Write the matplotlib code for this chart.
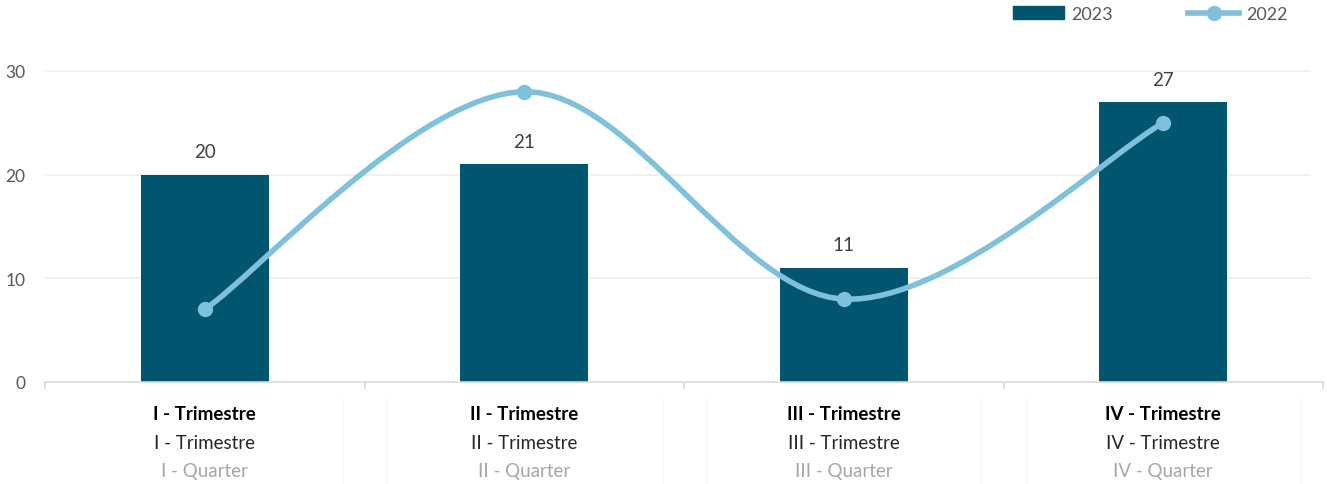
import matplotlib
matplotlib.use('Agg')
import matplotlib.pyplot as plt
from matplotlib.path import Path as mtpath
import matplotlib.patches as patches
from matplotlib.lines import Line2D

plt.rcParams['font.family'] = ['Lato', 'DejaVu Sans']

categories_bold = ['I - Trimestre', 'II - Trimestre', 'III - Trimestre', 'IV - Trimestre']
categories_mid = ['I - Trimestre', 'II - Trimestre', 'III - Trimestre', 'IV - Trimestre']
categories_en = ['I - Quarter', 'II - Quarter', 'III - Quarter', 'IV - Quarter']
values_2023 = [20, 21, 11, 27]
values_2022 = [7, 28, 8, 25]
yticks = [0, 10, 20, 30]

bar_color = '#02556f'
line_color = '#7fc0da'

W, H = 1327, 485
fig = plt.figure(figsize=(W / 100, H / 100), dpi=100)
ax = fig.add_axes([45 / W, 1 - 383 / H, (1323 - 45) / W, (383 - 72) / H * 31 / 30])

x = list(range(len(values_2023)))
ax.bar(x, values_2023, width=0.4, color=bar_color, zorder=2)
for xi, v in zip(x, values_2023):
    ax.text(xi, v + 1.4, str(v), ha='center', va='bottom', fontsize=13.5, color='#404040')

# smooth line like excel (cardinal spline through points)
pts = list(zip(x, values_2022))
verts = [pts[0]]
codes = [mtpath.MOVETO]
t = 1 / 6
for i in range(len(pts) - 1):
    p0 = pts[i - 1] if i > 0 else pts[i]
    p1 = pts[i]
    p2 = pts[i + 1]
    p3 = pts[i + 2] if i + 2 < len(pts) else pts[i + 1]
    c1 = (p1[0] + (p2[0] - p0[0]) * t, p1[1] + (p2[1] - p0[1]) * t)
    c2 = (p2[0] - (p3[0] - p1[0]) * t, p2[1] - (p3[1] - p1[1]) * t)
    verts += [c1, c2, p2]
    codes += [mtpath.CURVE4] * 3
curve = patches.PathPatch(mtpath(verts, codes), facecolor='none', edgecolor=line_color,
                          lw=4, capstyle='round', zorder=3)
ax.add_patch(curve)
ax.plot(x, values_2022, 'o', color=line_color, markersize=10, zorder=4)

ax.set_xlim(-0.5, 3.5)
ax.set_ylim(0, 31)
ax.set_yticks(yticks)
ax.set_yticklabels([str(v) for v in yticks], fontsize=12.5, color='#595959')
ax.tick_params(axis='y', length=0, pad=14)
ax.set_xticks([-0.5, 0.5, 1.5, 2.5, 3.5])
ax.set_xticklabels([])
ax.tick_params(axis='x', length=5, color='#d9d9d9', width=1.2)
for y in yticks[1:]:
    ax.plot([-0.5, 3.46], [y, y], color='#ededed', lw=1.2, zorder=0)
for s in ['top', 'right', 'left']:
    ax.spines[s].set_visible(False)
ax.spines['bottom'].set_color('#d9d9d9')
ax.spines['bottom'].set_linewidth(1.2)

for xi in x:
    ax.text(xi, -3.0, categories_bold[xi], ha='center', va='center', fontsize=13.5,
            fontweight='bold', color='black', clip_on=False)
    ax.text(xi, -5.8, categories_mid[xi], ha='center', va='center', fontsize=13.5,
            color='#262626', clip_on=False)
    ax.text(xi, -8.5, categories_en[xi], ha='center', va='center', fontsize=13.5,
            color='#a6a6a6', clip_on=False)

# faint separators between category label groups
for xb in [0.43, 0.57, 1.43, 1.57, 2.43, 2.57, 3.43]:
    ax.plot([xb, xb], [-1.5, -10], color='#f5f5f5', lw=1, clip_on=False, zorder=0)

handles = [patches.Patch(color=bar_color, label='2023'),
           Line2D([0], [0], color=line_color, lw=4, marker='o', markersize=10, label='2022')]
leg = fig.legend(handles=handles, loc='center left', bbox_to_anchor=(1004 / W, 1 - 15 / H),
                 ncol=2, frameon=False, fontsize=13, handlelength=2.8, columnspacing=4.2,
                 handletextpad=0.4, borderpad=0, handleheight=0.7)
for txt in leg.get_texts():
    txt.set_color('#595959')

fig.savefig('out.png', dpi=100)
